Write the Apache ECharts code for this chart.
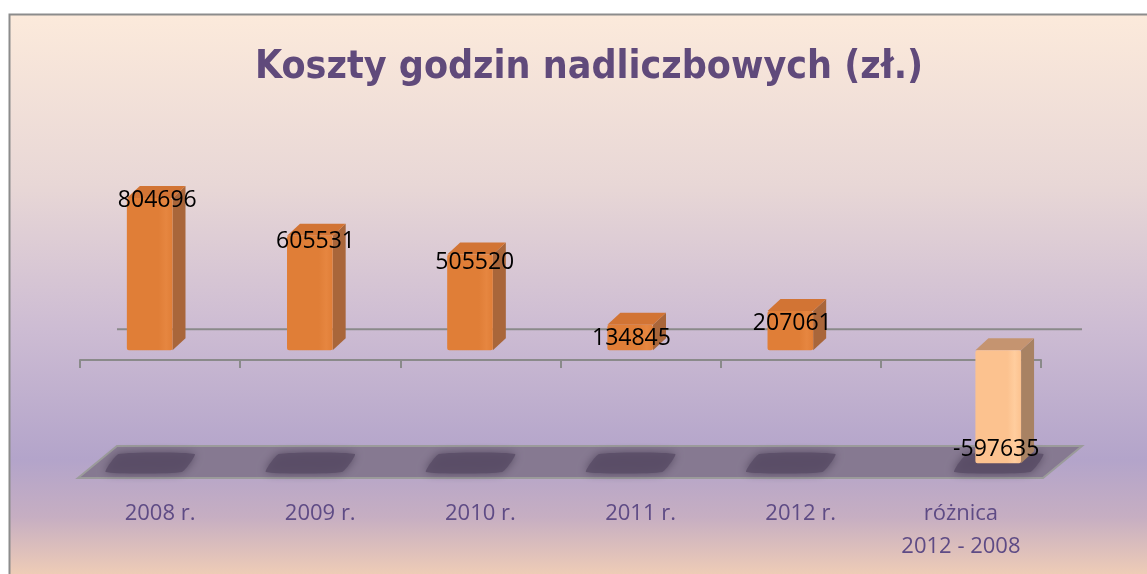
<!DOCTYPE html>
<html>
<head>
<meta charset="utf-8">
<script src="https://cdn.jsdelivr.net/npm/echarts@6/dist/echarts.min.js"></script>
<style>
html,body{margin:0;padding:0;background:#fff;}
#main{width:1147px;height:574px;}
</style>
</head>
<body>
<div id="main"></div>
<script>
const categories = ['2008 r.', '2009 r.', '2010 r.', '2011 r.', '2012 r.', 'różnica\n2012 - 2008'];
const values = [804696, 605531, 505520, 134845, 207061, -597635];
const titleText = 'Koszty godzin nadliczbowych (zł.)';
const yMin = -670000, yMax = 900000;

const chart = echarts.init(document.getElementById('main'), null, {renderer: 'canvas'});

function renderBar(params, api) {
  const i = api.value(0), v = api.value(1);
  const base = api.coord([i, 0]);
  const tip = api.coord([i, v]);
  const floorPt = api.coord([i, yMin]);
  const bw = api.size([1, 0])[0];
  const neg = v < 0;
  const cx = base[0] + (neg ? bw * 0.233 : -bw * 0.065);
  const w = bw * 0.285;
  const dx = 13, dy = 12;
  const x0 = cx - w / 2, x1 = cx + w / 2;
  const yT = Math.min(base[1], tip[1]), yB = Math.max(base[1], tip[1]);
  const h = yB - yT;
  const front = neg ? '#FCC28F' : '#E07E37';
  const frontHi = neg ? '#FFCD9E' : '#E68640';
  const side = neg ? '#A88263' : '#A9663A';
  const topc = neg ? '#C59470' : '#D27434';
  const fy = floorPt[1];
  const children = [
    {
      type: 'polygon',
      shape: {points: [[cx - 44, fy - 5], [cx - 31, fy - 23], [cx + 45, fy - 23], [cx + 32, fy - 5]], smooth: 0.15},
      style: {fill: '#5a4e67', shadowBlur: 10, shadowColor: '#4e4359', opacity: 0.85},
      z2: 1
    },
    {
      type: 'polygon',
      shape: {points: [[x1, yT], [x1 + dx, yT - dy], [x1 + dx, yB - dy], [x1, yB]]},
      style: {fill: side},
      z2: 5
    },
    {
      type: 'polygon',
      shape: {points: [[x0, yT], [x0 + dx, yT - dy], [x1 + dx, yT - dy], [x1, yT]]},
      style: {fill: topc},
      z2: 5
    },
    {
      type: 'rect',
      shape: {x: x0, y: yT, width: w, height: h, r: 2},
      style: {
        fill: new echarts.graphic.LinearGradient(0, 0, 1, 0, [
          {offset: 0, color: front},
          {offset: 0.7, color: front},
          {offset: 0.86, color: frontHi},
          {offset: 1, color: front}
        ])
      },
      z2: 6
    },
    {
      type: 'text',
      style: {
        text: String(v),
        x: neg ? cx - 2 : cx + h * 0.05,
        y: neg ? yB - 14 : yT + 16 - h * 0.09,
        align: 'center',
        verticalAlign: 'middle',
        fontFamily: 'Open Sans',
        fontSize: 23,
        fill: '#000'
      },
      z2: 10
    }
  ];
  return {type: 'group', children: children};
}

const option = {
  animation: false,
  backgroundColor: 'transparent',
  title: {
    text: titleText,
    left: 250,
    top: 43,
    textStyle: {
      fontFamily: 'DejaVu Sans Condensed, Open Sans',
      fontWeight: 'bold',
      fontSize: 39,
      color: '#604A7B'
    }
  },
  grid: {left: 80, right: 106, top: 180, bottom: 97},
  xAxis: [
    {
      type: 'category',
      data: categories,
      position: 'bottom',
      axisLine: {show: false},
      axisTick: {show: false},
      axisLabel: {
        margin: 20,
        fontFamily: 'Open Sans',
        fontSize: 22,
        lineHeight: 33,
        color: '#5E4B85'
      },
      z: 10
    },
    {
      type: 'category',
      data: categories,
      position: 'bottom',
      offset: -117,
      axisLine: {show: true, onZero: false, lineStyle: {color: '#8a8a8a', width: 2}},
      axisTick: {show: true, length: 8, lineStyle: {color: '#8a8a8a', width: 2}},
      axisLabel: {show: false},
      z: 1
    }
  ],
  yAxis: {
    type: 'value',
    min: yMin,
    max: yMax,
    show: false,
    splitLine: {show: false}
  },
  series: [{
    type: 'custom',
    xAxisIndex: 0,
    renderItem: renderBar,
    data: values.map((v, i) => [i, v]),
    z: 5
  }]
};

chart.setOption(option);

// Decorative background, floor and back-wall line derived from the axes
const z0 = chart.convertToPixel({gridIndex: 0}, [0, 0]);
const zMin = chart.convertToPixel({gridIndex: 0}, [0, yMin]);
const gridLeft = 80, gridRight = 1147 - 106;
const fy = zMin[1];
chart.setOption({
  graphic: [
    {
      type: 'rect',
      z: -10,
      silent: true,
      shape: {x: 9.5, y: 14.5, width: 1150, height: 570},
      style: {
        fill: new echarts.graphic.LinearGradient(0, 0, 0, 1, [
          {offset: 0, color: '#FCEADB'},
          {offset: 0.3, color: '#E8D7D6'},
          {offset: 0.55, color: '#CDBCD3'},
          {offset: 0.78, color: '#B3A4CA'},
          {offset: 0.88, color: '#C6AEC2'},
          {offset: 1, color: '#F6D2B4'}
        ]),
        stroke: '#8c8c8c',
        lineWidth: 2
      }
    },
    {
      type: 'polygon',
      z: -5,
      silent: true,
      shape: {points: [[gridLeft - 2, fy + 1], [gridLeft + 37, fy - 31], [gridRight + 41, fy - 31], [gridRight + 2, fy + 1]]},
      style: {fill: '#867991', stroke: '#9b9b9b', lineWidth: 2}
    },
    {
      type: 'line',
      z: -4,
      silent: true,
      shape: {x1: gridLeft + 37, y1: z0[1] - 21, x2: gridRight + 41, y2: z0[1] - 21},
      style: {stroke: '#8a8a8a', lineWidth: 2}
    }
  ]
});
</script>
</body>
</html>
